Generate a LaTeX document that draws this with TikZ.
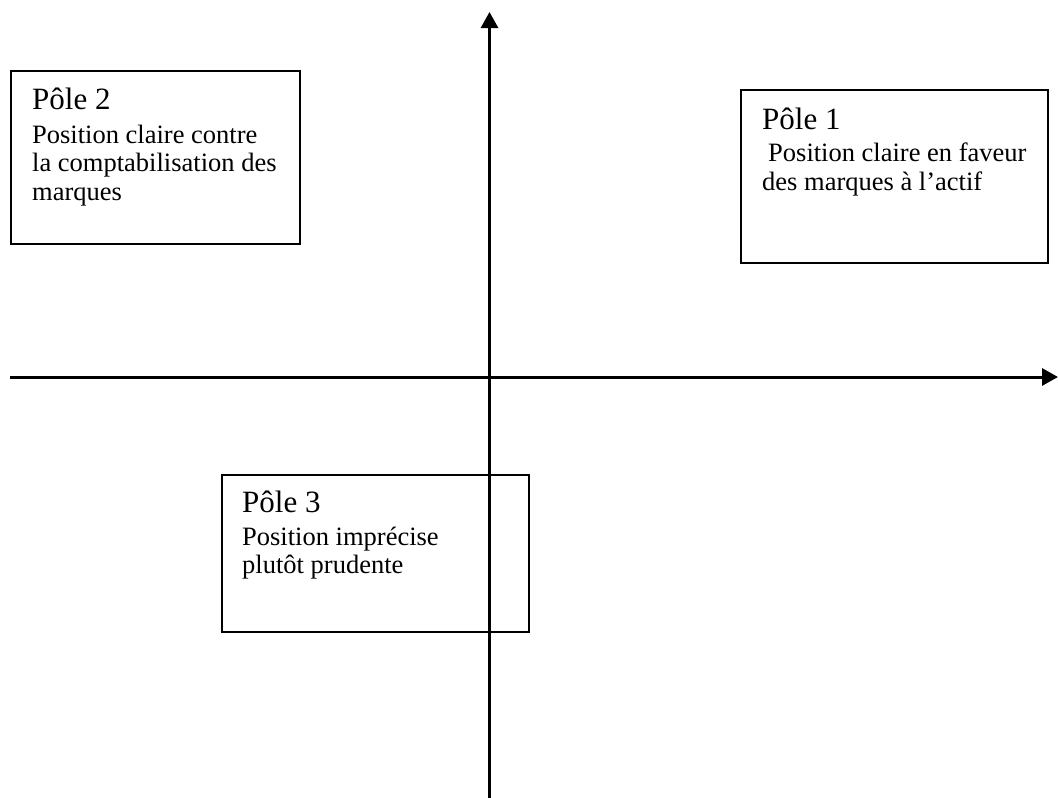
\documentclass[tikz,border=0pt]{standalone}
\usepackage{fontspec}
\setmainfont{Liberation Serif}
\usetikzlibrary{arrows.meta}
\begin{document}
\begin{tikzpicture}[x=1pt,y=-1pt,
  axis/.style={line width=3pt,-{Triangle[length=16pt,width=17pt]}},
  polebox/.style={draw,line width=2pt,inner sep=0pt,anchor=north west},
  head/.style={anchor=base west,inner sep=0pt,font=\fontsize{31}{31}\selectfont},
  body/.style={anchor=base west,inner sep=0pt,font=\fontsize{26.5}{28.3}\selectfont},
]
\useasboundingbox (0,0) rectangle (1058,798);
% axes
\coordinate (vb) at (489.5,798);
\coordinate (vt) at (489.5,12);
\coordinate (hl) at (10,377);
\coordinate (hr) at (1058,377);
\draw[axis] (vb) -- (vt);
\draw[axis] (hl) -- (hr);
% boxes
\node[polebox,minimum width=289pt,minimum height=173pt] (b2) at (9.5,69.5) {};
\node[polebox,minimum width=307pt,minimum height=173pt] (b1) at (739.5,89) {};
\node[polebox,minimum width=307pt,minimum height=157pt] (b3) at (221,473.5) {};
% texts
\node[head] (t2h) at (32,109.5) {Pôle 2};
\node[body] (t2a) at (32,143.5) {Position claire contre};
\node[body] (t2b) at (32,171.8) {la comptabilisation des};
\node[body] (t2c) at (32,200) {marques};
\node[head] (t1h) at (762,129.5) {Pôle 1};
\node[body] (t1a) at (768,161.8) {Position claire en faveur};
\node[body] (t1b) at (762,190) {des marques à l’actif};
\node[head] (t3h) at (242,512.8) {Pôle 3};
\node[body] (t3a) at (242,545) {Position imprécise};
\node[body] (t3b) at (242,573.3) {plutôt prudente};
\end{tikzpicture}
\end{document}
